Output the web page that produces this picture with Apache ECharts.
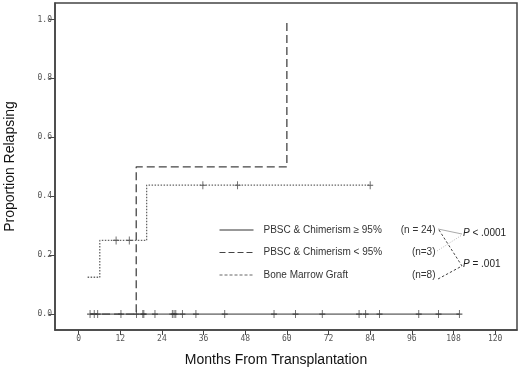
<!DOCTYPE html>
<html lang="en" style="height: 100%">
<head>
<meta charset="utf-8">
<title>Proportion Relapsing</title>
</head>
<body style="height: 100%; margin: 0; background: #fff">
<div id="container" style="height: 100%"></div>

<script type="text/javascript" src="https://cdn.jsdelivr.net/npm/echarts/dist/echarts.min.js"></script>

<script type="text/javascript">

var dom = document.getElementById('container');
var myChart = echarts.init(dom, null, {width: 520, height: 371});

// tick labels
const xTicks = [0, 12, 24, 36, 48, 60, 72, 84, 96, 108, 120];
const yTicks = [0, 0.2, 0.4, 0.6, 0.8, 1.0];

// groups (legend)
const groupNames = ['PBSC & Chimerism \u2265 95%', 'PBSC & Chimerism < 95%', 'Bone Marrow Graft'];
const groupCounts = ['(n = 24)', '(n=3)', '(n=8)'];

// step curves: [months, cumulative proportion relapsing]
const chimHigh = [[3.3, 0], [109.7, 0]];
const chimLow = [[3.3, 0], [16.6, 0.5], [60, 1.0]];
const marrow = [[2.6, 0.125], [6.1, 0.25], [19.6, 0.4375], [84, 0.4375]];

// censored observations (months)
const chimHighCensor = [3.3, 4.5, 5.5, 12.2, 16.7, 18.5, 18.8, 22, 27, 27.5, 28, 29.9, 33.8,
    42.1, 56.3, 62.5, 70.2, 80.8, 82.7, 86.7, 98, 103.7, 109.7];
const marrowCensor = [[10.8, 0.25], [14.6, 0.25], [35.8, 0.4375], [45.8, 0.4375], [84, 0.4375]];

const plus = 'path://M0,4 L10,4 M5,0 L5,8';
const legendDash = ['solid', [6, 3], [3, 2]];

var option = {
    backgroundColor: '#fff',
    animation: false,
    grid: {
        left: 55, right: 3, top: 3, bottom: 41,
        outerBoundsMode: 'none',
        containLabel: false,
        show: true, borderColor: '#444', borderWidth: 1.5
    },
    xAxis: {
        type: 'value',
        min: -6.8, max: 126.3,
        name: 'Months From Transplantation',
        nameLocation: 'middle',
        nameGap: 23,
        nameTextStyle: {fontFamily: 'Liberation Sans', fontSize: 14, color: '#111', padding: [0, 20, 0, 0]},
        splitLine: {show: false},
        axisLine: {show: true, onZero: false, lineStyle: {color: '#444', width: 1.5}},
        axisTick: {show: true, inside: false, length: 5, customValues: xTicks, lineStyle: {color: '#444'}},
        axisLabel: {
            customValues: xTicks, margin: 5,
            fontFamily: 'DejaVu Sans Mono', fontSize: 8, color: '#555'
        }
    },
    yAxis: {
        type: 'value',
        min: -0.054, max: 1.056,
        name: 'Proportion Relapsing',
        nameLocation: 'middle',
        nameGap: 38,
        nameTextStyle: {fontFamily: 'Liberation Sans', fontSize: 14, color: '#111', padding: [0, 0, 0, 0]},
        splitLine: {show: false},
        axisLine: {show: true, onZero: false, lineStyle: {color: '#444', width: 1.5}},
        axisTick: {show: true, inside: false, length: 6, customValues: yTicks, lineStyle: {color: '#444'}},
        axisLabel: {
            customValues: yTicks, margin: 3,
            formatter: function (v) { return v.toFixed(1); },
            fontFamily: 'DejaVu Sans Mono', fontSize: 8, color: '#555'
        }
    },
    legend: {
        data: groupNames.map(function (n, i) {
            return {name: n, lineStyle: {width: 1, type: legendDash[i]}};
        }),
        orient: 'vertical',
        left: 219, top: 225,
        padding: 0,
        itemWidth: 34, itemHeight: 10, itemGap: 12.5,
        selectedMode: false,
        itemStyle: {opacity: 0},
        formatter: function (name) {
            var i = groupNames.indexOf(name);
            return '{a|' + name + '}{b|' + groupCounts[i] + '}';
        },
        textStyle: {
            padding: [0, 0, 0, 5],
            rich: {
                a: {width: 132, fontFamily: 'Liberation Sans', fontSize: 10, color: '#333'},
                b: {width: 40, align: 'right', fontFamily: 'Liberation Sans', fontSize: 10, color: '#333'}
            }
        }
    },
    graphic: [
        {type: 'line', shape: {x1: 438, y1: 229, x2: 462, y2: 234}, style: {stroke: '#aaa', lineWidth: 1}},
        {type: 'line', shape: {x1: 437, y1: 251, x2: 462, y2: 235}, style: {stroke: '#bbb', lineWidth: 1, lineDash: [1, 1.5]}},
        {type: 'line', shape: {x1: 439, y1: 230, x2: 462, y2: 266}, style: {stroke: '#444', lineWidth: 1, lineDash: [2.5, 2]}},
        {type: 'line', shape: {x1: 438, y1: 279, x2: 462, y2: 266}, style: {stroke: '#444', lineWidth: 1, lineDash: [2.5, 2]}},
        {
            type: 'text', left: 463, top: 228,
            style: {
                text: '{i|P} < .0001',
                fontFamily: 'Liberation Sans', fontSize: 10, fill: '#222',
                rich: {i: {fontStyle: 'italic', fontFamily: 'Liberation Sans', fontSize: 10, fill: '#222'}}
            }
        },
        {
            type: 'text', left: 463, top: 259,
            style: {
                text: '{i|P} = .001',
                fontFamily: 'Liberation Sans', fontSize: 10, fill: '#222',
                rich: {i: {fontStyle: 'italic', fontFamily: 'Liberation Sans', fontSize: 10, fill: '#222'}}
            }
        }
    ],
    series: [
        {
            name: groupNames[0], type: 'line', step: 'end', symbol: 'none',
            data: chimHigh,
            lineStyle: {color: '#333', width: 1, type: 'solid'},
            itemStyle: {color: '#333'}
        },
        {
            name: groupNames[1], type: 'line', step: 'end', symbol: 'none',
            data: chimLow,
            lineStyle: {color: '#444', width: 1.3, type: [8, 4]},
            itemStyle: {color: '#444'}
        },
        {
            name: groupNames[2], type: 'line', step: 'end', symbol: 'none',
            data: marrow,
            lineStyle: {color: '#666', width: 1.3, type: [1.5, 1.5]},
            itemStyle: {color: '#666'}
        },
        {
            type: 'scatter', symbol: plus, symbolSize: [6, 8], silent: true,
            data: chimHighCensor.map(function (t) { return [t, 0]; }),
            itemStyle: {color: 'none', borderColor: '#333', borderWidth: 1}
        },
        {
            type: 'scatter', symbol: plus, symbolSize: [6, 8], silent: true,
            data: marrowCensor,
            itemStyle: {color: 'none', borderColor: '#333', borderWidth: 1}
        }
    ]
};

myChart.setOption(option);
window.addEventListener('resize', myChart.resize);
</script>
</body>
</html>
